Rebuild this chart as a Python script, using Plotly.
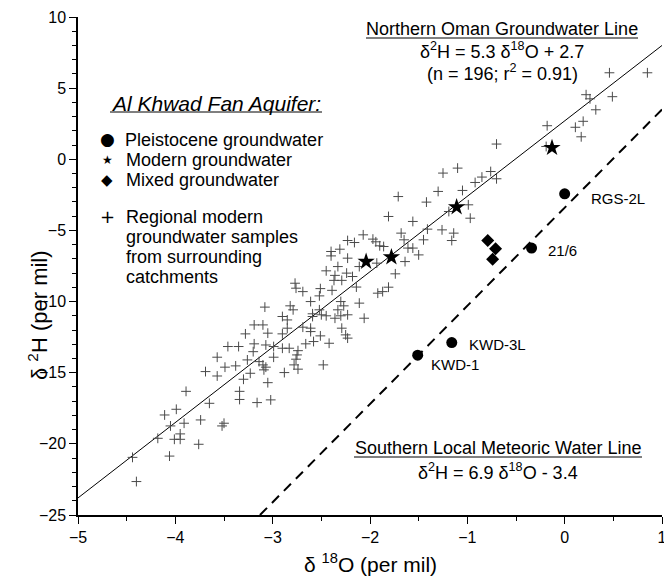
import plotly.graph_objects as go

# ---------------- data ----------------
cross_x = [0.46, 0.85, 0.22, 0.26, 0.49, 0.32, 0.19, 0.11, 0.17, -0.18, -0.19, -0.70,
           -1.25, -1.10, -0.76, -0.85, -0.92, -0.70, -1.30, -1.05, -1.71, -1.42, -1.19,
           -0.97, -0.99, -1.81, -1.56, -1.26, -1.14, -1.16, -1.68, -1.45, -1.41, -1.61,
           -1.56, -1.50, -1.64, -1.74, -1.81, -1.90, -1.97, -2.07, -2.23, -2.16, -1.86,
           -2.23, -2.11, -1.93, -2.24, -2.18, -1.65, -1.94, -2.40, -2.40, -2.31, -2.45,
           -2.36, -2.37, -2.29, -2.14, -2.51, -2.39, -2.30, -2.27, -2.33, -2.11, -1.92,
           -1.87, -2.59, -2.50, -2.45, -2.30, -2.23, -2.36, -2.06, -2.33, -3.28, -3.05,
           -2.90, -2.61, -2.51, -2.58, -2.66, -2.42, -2.25, -2.23, -3.19, -3.07, -2.99,
           -2.90, -2.83, -2.74, -2.75, -2.76, -2.78, -2.74, -2.48, -2.99, -3.20, -3.26,
           -3.14, -3.10, -3.07, -3.09, -3.23, -2.88, -3.30, -3.05, -3.16, -3.02, -2.77,
           -2.76, -2.69, -2.61, -2.52, -3.08, -2.82, -2.79, -2.90, -2.85, -2.59, -2.52,
           -3.19, -3.10, -2.85, -2.69, -2.61, -3.35, -3.46, -3.57, -3.69, -3.57, -3.49,
           -3.38, -3.89, -3.34, -3.34, -3.65, -3.99, -4.11, -3.91, -4.05, -3.74, -3.50,
           -3.52, -3.95, -4.01, -3.95, -4.18, -3.76, -4.44, -4.06, -4.40, -2.29]
cross_y = [6.08, 6.08, 4.54, 4.25, 4.40, 3.48, 2.67, 2.25, 1.58, 2.36, 0.90, 1.07,
           -0.97, -0.62, -0.86, -1.25, -1.63, -1.37, -2.26, -2.19, -2.62, -3.01, -3.67,
           -4.14, -3.20, -4.02, -4.37, -4.96, -5.19, -5.71, -5.19, -5.66, -4.91, -6.24,
           -6.24, -6.72, -7.19, -8.05, -8.99, -6.08, -5.61, -5.31, -5.71, -5.85, -6.13,
           -6.95, -7.54, -7.30, -8.00, -8.24, -5.66, -5.80, -6.48, -6.79, -6.32, -7.84,
           -8.16, -8.51, -8.51, -8.98, -9.09, -9.21, -10.00, -10.30, -10.58, -10.11, -9.41,
           -9.30, -10.86, -10.93, -11.00, -11.00, -10.93, -11.17, -11.17, -7.54, -12.27, -12.22,
           -12.27, -12.11, -12.41, -12.81, -12.97, -12.93, -12.34, -12.57, -12.97, -13.05, -13.16,
           -13.28, -13.28, -13.45, -13.75, -14.05, -14.45, -14.75, -14.45, -13.91, -13.52, -14.10,
           -14.22, -14.45, -14.61, -14.80, -15.04, -14.99, -15.46, -15.70, -17.10, -16.91, -8.71,
           -9.06, -9.30, -10.00, -9.60, -10.39, -10.30, -10.58, -11.05, -11.29, -11.05, -10.58,
           -11.64, -11.64, -11.87, -11.80, -11.87, -13.16, -13.16, -13.91, -14.92, -15.23, -14.61,
           -14.52, -16.31, -16.31, -16.88, -17.15, -17.57, -17.97, -18.55, -18.74, -18.32, -18.55,
           -18.74, -19.30, -19.68, -19.68, -19.61, -20.03, -20.95, -20.86, -22.65, -11.87]

pleisto_x = [-1.51, -1.16, -0.34, 0.00]
pleisto_y = [-13.77, -12.88, -6.24, -2.43]
pleisto_labels = ["KWD-1", "KWD-3L", "21/6", "RGS-2L"]

modern_x = [-2.04, -1.78, -1.11, -0.13]
modern_y = [-7.19, -6.88, -3.36, 0.81]

mixed_x = [-0.79, -0.71, -0.74]
mixed_y = [-5.71, -6.29, -7.02]

# regression lines: slope, intercept
north_slope, north_int = 5.3, 2.7
south_slope, south_int = 6.9, -3.4

x_range = [-5, 1]
y_range = [-25, 10]

FONT = "Liberation Sans, Arial, sans-serif"

# ---------------- figure ----------------
fig = go.Figure()

nx = [x_range[0], x_range[1]]
fig.add_trace(go.Scatter(x=nx, y=[north_slope * v + north_int for v in nx], mode="lines",
                         line=dict(color="black", width=1), showlegend=False, hoverinfo="skip"))
sx = [(y_range[0] - south_int) / south_slope, x_range[1]]
fig.add_trace(go.Scatter(x=sx, y=[south_slope * v + south_int for v in sx], mode="lines",
                         line=dict(color="black", width=2, dash="10px,7px"),
                         showlegend=False, hoverinfo="skip"))

fig.add_trace(go.Scatter(x=cross_x, y=cross_y, mode="markers", name="Regional",
                         marker=dict(symbol="cross-thin", size=7,
                                     line=dict(color="#4a4a4a", width=1)),
                         showlegend=False))
fig.add_trace(go.Scatter(x=pleisto_x, y=pleisto_y, mode="markers", name="Pleistocene groundwater",
                         marker=dict(symbol="circle", size=11, color="black"), showlegend=False))
fig.add_trace(go.Scatter(x=modern_x, y=modern_y, mode="markers", name="Modern groundwater",
                         marker=dict(symbol="star", size=13, color="black"), showlegend=False))
fig.add_trace(go.Scatter(x=mixed_x, y=mixed_y, mode="markers", name="Mixed groundwater",
                         marker=dict(symbol="diamond", size=10, color="black"), showlegend=False))

# point labels
label_shift = {"KWD-1": (11, -9), "KWD-3L": (15, -2), "21/6": (14, -2), "RGS-2L": (24, -5)}
annots = []
for lx, ly, lt in zip(pleisto_x, pleisto_y, pleisto_labels):
    dx, dy = label_shift[lt]
    annots.append(dict(x=lx, y=ly, xref="x", yref="y", text=lt, showarrow=False,
                       xanchor="left", yanchor="middle", xshift=dx, yshift=dy,
                       font=dict(family=FONT, size=15, color="black")))

L, W, T, H = 78, 584, 17, 498


def px(xp):
    return (xp - L) / W


def py(yp):
    return (T + H - yp) / H


def text(xp, yp, t, size=18, anchor="left", font=FONT, angle=0):
    annots.append(dict(x=px(xp), y=py(yp), xref="paper", yref="paper", text=t, showarrow=False,
                       xanchor=anchor, yanchor="middle", textangle=angle,
                       font=dict(family=font, size=size, color="black")))


# legend block
text(216, 103, "<i>Al Khwad Fan Aquifer:</i>", size=21, anchor="center")
text(107, 139, "●", size=17, anchor="center", font="DejaVu Sans")
text(107, 160, "★", size=12, anchor="center", font="DejaVu Sans")
text(107, 180, "◆", size=15, anchor="center", font="DejaVu Sans")
text(107, 216, "+", size=18, anchor="center", font="DejaVu Sans")
text(123, 140, "Pleistocene groundwater")
text(124, 160, "Modern groundwater")
text(124, 180, "Mixed groundwater")
for i, t in enumerate(["Regional modern", "groundwater samples", "from surrounding", "catchments"]):
    text(124, 217 + 20 * i, t)

# line labels
text(502, 29, "Northern Oman Groundwater Line", anchor="center")
text(502, 51, "δ<sup>2</sup>H = 5.3 δ<sup>18</sup>O + 2.7", anchor="center")
text(502, 72, "(n = 196; r<sup>2</sup> = 0.91)", anchor="center")
text(498, 448, "Southern Local Meteoric Water Line", anchor="center")
text(498, 471, "δ<sup>2</sup>H = 6.9 δ<sup>18</sup>O - 3.4", anchor="center")

# axis titles
text(370, 563, "δ <sup>18</sup>O (per mil)", size=21, anchor="center")
text(38, 315, "δ <sup>2</sup>H (per mil)", size=22, anchor="center", angle=-90)

shapes = [
    dict(type="line", xref="paper", yref="paper", x0=px(110), x1=px(322), y0=py(112), y1=py(112),
         line=dict(color="black", width=1)),
    dict(type="line", xref="paper", yref="paper", x0=px(366), x1=px(638), y0=py(38), y1=py(38),
         line=dict(color="black", width=1)),
    dict(type="line", xref="paper", yref="paper", x0=px(354), x1=px(642), y0=py(457), y1=py(457),
         line=dict(color="black", width=1)),
]

axis_common = dict(showline=True, linecolor="black", linewidth=1.5, ticks="outside",
                   ticklen=7, tickwidth=1.2, tickcolor="black", showgrid=False, zeroline=False,
                   tickfont=dict(family=FONT, size=16, color="black"), mirror=False,
                   ticklabeloverflow="allow", automargin=False)

fig.update_layout(
    width=664, height=576,
    margin=dict(l=L, r=664 - L - W, t=T, b=576 - T - H, autoexpand=False),
    plot_bgcolor="white", paper_bgcolor="white",
    showlegend=False,
    annotations=annots, shapes=shapes,
    xaxis=dict(range=x_range, dtick=1, tick0=-5,
               minor=dict(dtick=0.5, ticks="outside", ticklen=4, tickcolor="black", tickwidth=1),
               **axis_common),
    yaxis=dict(range=y_range, dtick=5, tick0=-25,
               minor=dict(dtick=1, ticks="outside", ticklen=4, tickcolor="black", tickwidth=1),
               **axis_common),
)

fig.write_html("out.html", config={"displayModeBar": False},
               post_script="document.body.style.margin='0';"
                           "document.documentElement.style.overflow='hidden';")
